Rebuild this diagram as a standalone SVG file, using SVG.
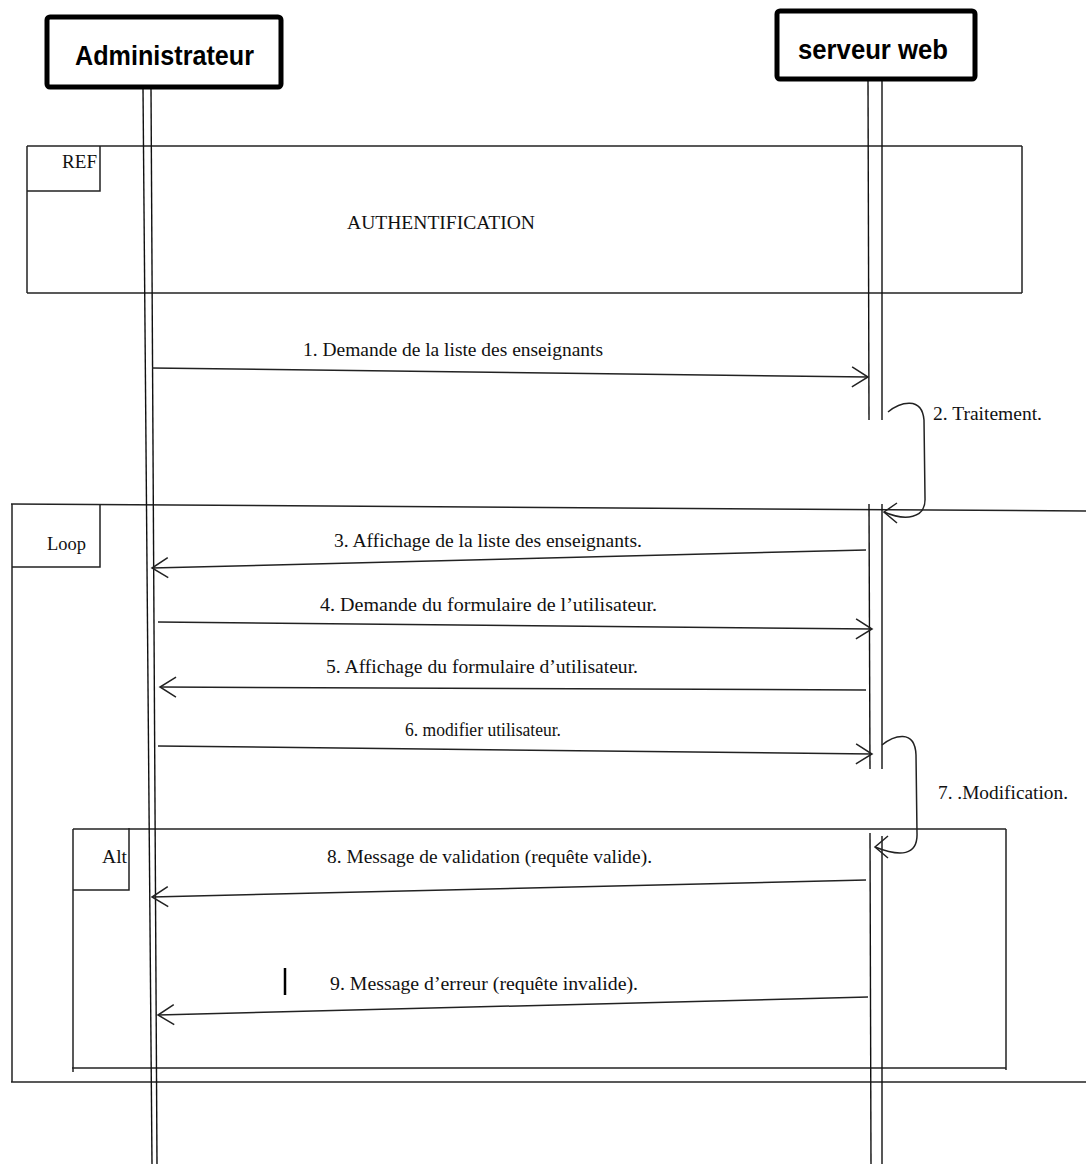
<svg xmlns="http://www.w3.org/2000/svg" width="1086" height="1164" viewBox="0 0 1086 1164">
<defs>
<style>
.hdr{fill:#fff;stroke:#000;stroke-width:5;}
.hdrt{font-family:"Liberation Sans",Arial,sans-serif;font-weight:bold;font-size:28px;fill:#000;}
.life{stroke:#111;stroke-width:1.4;fill:none;}
.frm{fill:none;stroke:#222;stroke-width:1.5;}
.lbl{font-family:"Liberation Serif","Times New Roman",serif;font-size:19.5px;fill:#111;}
.msg{stroke:#222;stroke-width:1.5;fill:none;}
</style>
<marker id="arr" markerUnits="userSpaceOnUse" markerWidth="22" markerHeight="26" viewBox="-19 -13 22 26" refX="0" refY="0" orient="auto">
<path d="M-16,-10 L0,0 L-16,10" fill="none" stroke="#222" stroke-width="1.5"/>
</marker>
</defs>
<rect width="1086" height="1164" fill="#fff"/>

<g id="frame-ref">
<line class="frm" x1="27" y1="146" x2="1022" y2="146"/>
<line class="frm" x1="1022" y1="146" x2="1022" y2="293"/>
<line class="frm" x1="27" y1="293" x2="1022" y2="293"/>
<line class="frm" x1="27" y1="146" x2="27" y2="293"/>
<polyline class="frm" points="27,191 100,191 100,146"/>
<text class="lbl" x="62" y="168" textLength="35" lengthAdjust="spacingAndGlyphs">REF</text>
<text class="lbl" x="347" y="229" textLength="188" lengthAdjust="spacingAndGlyphs">AUTHENTIFICATION</text>
</g>

<g id="frame-loop">
<line class="frm" x1="11" y1="504" x2="1086" y2="511"/>
<line class="frm" x1="12" y1="504" x2="12" y2="1082"/>
<line class="frm" x1="11" y1="1082" x2="1086" y2="1082"/>
<polyline class="frm" points="12,567 100,567 100,504"/>
<text class="lbl" x="47" y="550" textLength="39" lengthAdjust="spacingAndGlyphs">Loop</text>
</g>

<g id="frame-alt">
<line class="frm" x1="73" y1="829" x2="1006" y2="829"/>
<line class="frm" x1="1006" y1="829" x2="1006" y2="1070"/>
<line class="frm" x1="72" y1="1068" x2="1006" y2="1068"/>
<line class="frm" x1="73" y1="829" x2="73" y2="1072"/>
<polyline class="frm" points="73,890 129,890 129,828"/>
<text class="lbl" x="102" y="863" textLength="25" lengthAdjust="spacingAndGlyphs">Alt</text>
</g>

<g id="node-admin">
<line class="life" x1="143" y1="88" x2="152" y2="1164"/>
<line class="life" x1="151" y1="88" x2="157" y2="1164"/>
<rect class="hdr" x="47" y="17" width="234" height="70" rx="3"/>
<text class="hdrt" x="75" y="65" textLength="179" lengthAdjust="spacingAndGlyphs">Administrateur</text>
</g>

<g id="node-server">
<line class="life" x1="868" y1="79" x2="869" y2="420"/>
<line class="life" x1="882" y1="79" x2="882" y2="420"/>
<line class="life" x1="869" y1="504" x2="870" y2="769"/>
<line class="life" x1="882" y1="504" x2="882" y2="769"/>
<line class="life" x1="870" y1="833" x2="871" y2="1164"/>
<line class="life" x1="882" y1="836" x2="882" y2="1164"/>
<rect class="hdr" x="777" y="11" width="198" height="68" rx="3"/>
<text class="hdrt" x="798" y="59" textLength="150" lengthAdjust="spacingAndGlyphs">serveur web</text>
</g>

<g id="connectors">
<line class="msg" x1="152" y1="368" x2="868" y2="377" marker-end="url(#arr)"/>
<text class="lbl" x="303" y="356" textLength="300" lengthAdjust="spacingAndGlyphs">1. Demande de la liste des enseignants</text>

<path class="msg" d="M888,412 C900,402 922,396 924,420 L925,498 C926,519 905,521 884,512"/>
<polyline class="msg" points="897,503 884,512 897,523"/>
<text class="lbl" x="933" y="420" textLength="109" lengthAdjust="spacingAndGlyphs">2. Traitement.</text>

<line class="msg" x1="866" y1="550" x2="152" y2="568" marker-end="url(#arr)"/>
<text class="lbl" x="334" y="547" textLength="308" lengthAdjust="spacingAndGlyphs">3. Affichage de la liste des enseignants.</text>

<line class="msg" x1="158" y1="622" x2="872" y2="629" marker-end="url(#arr)"/>
<text class="lbl" x="320" y="611" textLength="337" lengthAdjust="spacingAndGlyphs">4. Demande du formulaire de l’utilisateur.</text>

<line class="msg" x1="866" y1="690" x2="160" y2="687" marker-end="url(#arr)"/>
<text class="lbl" x="326" y="673" textLength="312" lengthAdjust="spacingAndGlyphs">5. Affichage du formulaire d’utilisateur.</text>

<line class="msg" x1="158" y1="746" x2="872" y2="754" marker-end="url(#arr)"/>
<text class="lbl" x="405" y="736" textLength="156" lengthAdjust="spacingAndGlyphs">6. modifier utilisateur.</text>

<path class="msg" d="M882,745 C893,736 915,728 916,755 L917,833 C918,856 900,857 875,847"/>
<polyline class="msg" points="888,836 875,847 888,858"/>
<text class="lbl" x="938" y="799" textLength="130" lengthAdjust="spacingAndGlyphs">7. .Modification.</text>

<line class="msg" x1="866" y1="880" x2="152" y2="897" marker-end="url(#arr)"/>
<text class="lbl" x="327" y="863" textLength="325" lengthAdjust="spacingAndGlyphs">8. Message  de validation (requête valide).</text>

<line x1="285" y1="968" x2="285" y2="995" stroke="#000" stroke-width="2.5"/>

<line class="msg" x1="868" y1="997" x2="158" y2="1015" marker-end="url(#arr)"/>
<text class="lbl" x="330" y="990" textLength="308" lengthAdjust="spacingAndGlyphs">9. Message  d’erreur (requête invalide).</text>
</g>
</svg>
